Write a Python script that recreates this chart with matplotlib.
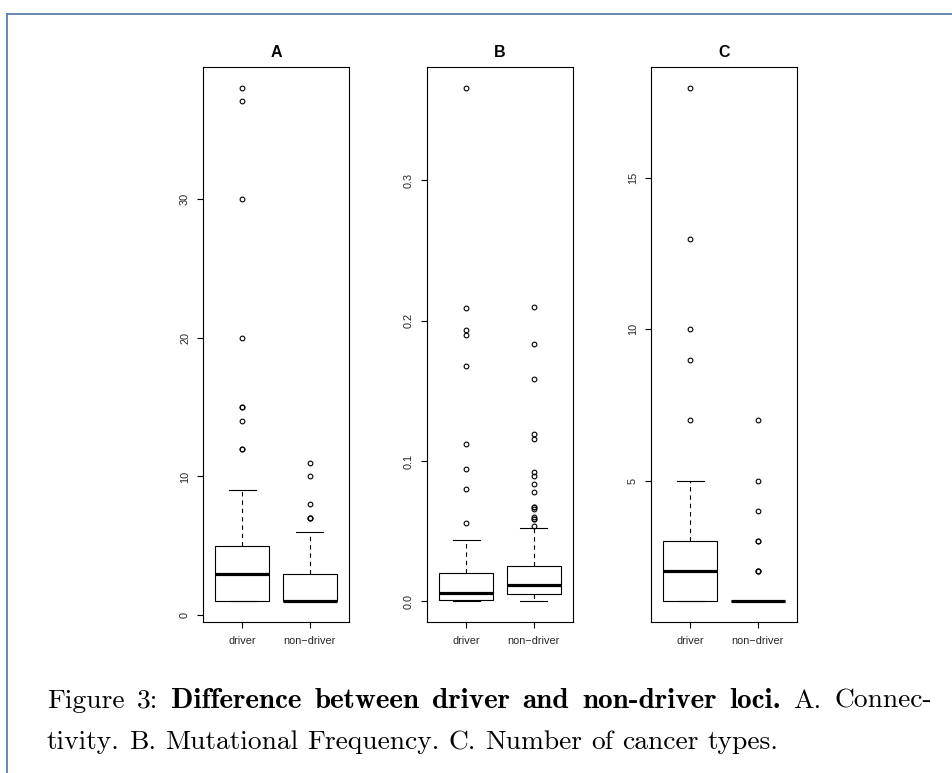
import matplotlib
matplotlib.use("Agg")
import matplotlib.pyplot as plt
from matplotlib.lines import Line2D
from matplotlib.ticker import FixedLocator, FormatStrFormatter

plt.rcParams['font.family'] = ['Liberation Sans', 'DejaVu Sans']

#%% data
groups = ["driver", "non\u2212driver"]
titles = ["A", "B", "C"]

# box stats: [lower whisker, q1, median, q3, upper whisker]
A_driver_box = [1, 1, 3, 5, 9]
A_driver_out = [12, 12, 14, 15, 15, 20, 30, 37, 38]
A_nondriver_box = [1, 1, 1, 3, 6]
A_nondriver_out = [7, 7, 7, 8, 10, 11]
A_ticks = [0, 10, 20, 30]

B_driver_box = [0.0, 0.001, 0.006, 0.020, 0.044]
B_driver_out = [0.056, 0.080, 0.094, 0.112, 0.168, 0.190, 0.193, 0.209, 0.366]
B_nondriver_box = [0.0, 0.005, 0.012, 0.025, 0.052]
B_nondriver_out = [0.054, 0.059, 0.059, 0.060, 0.066, 0.067, 0.067, 0.078,
                   0.0835, 0.089, 0.092, 0.1155, 0.119, 0.1585, 0.183, 0.2095]
B_ticks = [0.0, 0.1, 0.2, 0.3]

C_driver_box = [1, 1, 2, 3, 5]
C_driver_out = [7, 9, 10, 13, 18]
C_nondriver_box = [1, 1, 1, 1, 1]
C_nondriver_out = [2, 2, 2, 3, 3, 4, 5, 7]
C_ticks = [5, 10, 15]

caption_1 = [("Figure", "r"), ("3:", "r"), ("Difference", "b"), ("between", "b"),
             ("driver", "b"), ("and", "b"), ("non-driver", "b"), ("loci.", "b"),
             ("A.", "r"), ("Connec-", "r")]
caption_2 = [("tivity.", "r"), ("B.", "r"), ("Mutational", "r"), ("Frequency.", "r"),
             ("C.", "r"), ("Number", "r"), ("of", "r"), ("cancer", "r"), ("types.", "r")]

panels = [
    (A_driver_box, A_driver_out, A_nondriver_box, A_nondriver_out, A_ticks, "%d"),
    (B_driver_box, B_driver_out, B_nondriver_box, B_nondriver_out, B_ticks, "%.1f"),
    (C_driver_box, C_driver_out, C_nondriver_box, C_nondriver_out, C_ticks, "%d"),
]

#%% figure
W, H = 953, 773
fig = plt.figure(figsize=(W / 100, H / 100), dpi=100)
fig.patch.set_facecolor('white')

# page frame (only top and left edges visible)
frame_col = '#5a80aa'
fig.add_artist(Line2D([7 / W, 1], [1 - 14 / H, 1 - 14 / H], color=frame_col, lw=1.3))
fig.add_artist(Line2D([7 / W, 7 / W], [0, 1 - 14 / H], color=frame_col, lw=1.3))

ax_left = [203, 427, 651]
ax_w, ax_top, ax_bot = 146, 67, 622

for i, (d_box, d_out, n_box, n_out, ticks, fmt) in enumerate(panels):
    ax = fig.add_axes([ax_left[i] / W, 1 - ax_bot / H, ax_w / W, (ax_bot - ax_top) / H])
    stats = []
    for lab, box, out in [(groups[0], d_box, d_out), (groups[1], n_box, n_out)]:
        stats.append(dict(label=lab, whislo=box[0], q1=box[1], med=box[2],
                          q3=box[3], whishi=box[4], fliers=out))
    ax.bxp(stats, positions=[1, 2], widths=0.8, capwidths=0.4, patch_artist=True,
           boxprops=dict(facecolor='white', edgecolor='black', linewidth=0.8),
           medianprops=dict(color='black', linewidth=2.3, solid_capstyle='butt'),
           whiskerprops=dict(color='black', linewidth=0.8, linestyle=(0, (4, 3.5))),
           capprops=dict(color='black', linewidth=0.8),
           flierprops=dict(marker='o', markersize=3.4, markerfacecolor='none',
                           markeredgecolor='black', markeredgewidth=0.8))

    # R style axis ranges: 4% padding around data
    allv = d_box + d_out + n_box + n_out
    lo, hi = min(allv), max(allv)
    pad = 0.04 * (hi - lo)
    ax.set_ylim(lo - pad, hi + pad)
    ax.set_xlim(0.42, 2.58)

    ax.yaxis.set_major_locator(FixedLocator(ticks))
    ax.yaxis.set_major_formatter(FormatStrFormatter(fmt))
    ax.set_xticks([1, 2])
    ax.set_xticklabels(groups)
    ax.tick_params(axis='y', length=4.3, width=0.8, pad=5, labelsize=7.8,
                   labelrotation=90, labelcolor='#262626')
    ax.tick_params(axis='x', length=4.3, width=0.8, pad=5.5, labelsize=7.8,
                   labelcolor='#262626')
    for lbl in ax.get_yticklabels():
        lbl.set_va('center')
    for sp in ax.spines.values():
        sp.set_linewidth(0.8)
    ax.set_title(titles[i], fontsize=11.5, fontweight='bold', pad=7)

#%% caption (LaTeX-like, justified first line)
cap_fs = 19.8
fams = {"r": "cmr10", "b": "cmb10"}
sizes = {"r": cap_fs, "b": cap_fs * 1.06}
fig.canvas.draw()
rend = fig.canvas.get_renderer()


def text_width(s, f):
    t = fig.text(0, 0, s, family=fams[f], fontsize=sizes[f])
    w = t.get_window_extent(rend).width
    t.remove()
    return w


space = text_width("a b", "r") - text_width("ab", "r")
x0, x1 = 47, 932
base_1, base_2 = 708, 749

w1 = [text_width(s, f) for s, f in caption_1]
gap = (x1 - x0 - sum(w1)) / (len(caption_1) - 1)
x = x0
for (s, f), w in zip(caption_1, w1):
    fig.text(x / W, 1 - base_1 / H, s, family=fams[f], fontsize=sizes[f], va='baseline')
    x += w + gap

x = x0
for s, f in caption_2:
    fig.text(x / W, 1 - base_2 / H, s, family=fams[f], fontsize=sizes[f], va='baseline')
    x += text_width(s, f) + space

fig.savefig("out.png", dpi=100)
